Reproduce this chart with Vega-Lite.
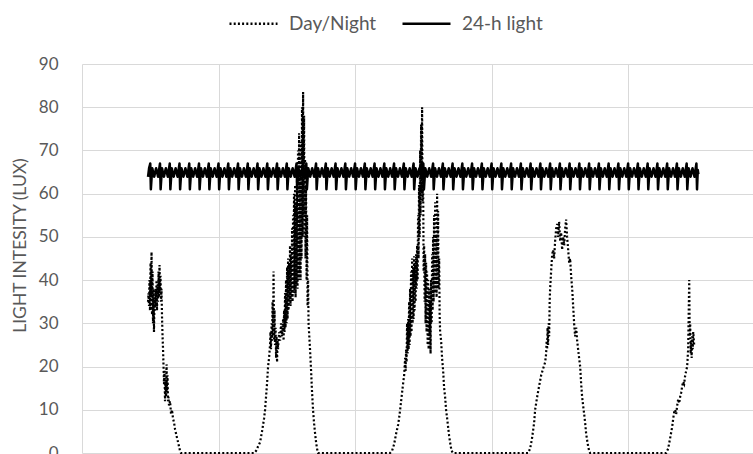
{
  "$schema": "https://vega.github.io/schema/vega-lite/v6.json",
  "width": 671,
  "height": 389,
  "autosize": {"type": "none"},
  "padding": {"left": 82, "top": 64, "right": 0, "bottom": 1},
  "background": "white",
  "config": {
    "view": {"stroke": null},
    "font": "Lato",
    "axis": {"gridColor": "#d9d9d9", "gridWidth": 1}
  },
  "datasets": {
    "daynight": [
      {"t":6.77,"v":35},{"t":6.82,"v":37},{"t":6.87,"v":34},{"t":6.92,"v":40},{"t":6.97,"v":33},{"t":7.03,"v":44},{"t":7.08,"v":36},{"t":7.13,"v":46.5},{"t":7.18,"v":32},{"t":7.23,"v":42},{"t":7.28,"v":30},{"t":7.33,"v":38},{"t":7.38,"v":28},{"t":7.44,"v":36},{"t":7.49,"v":33},{"t":7.54,"v":38},{"t":7.59,"v":34},{"t":7.64,"v":40},{"t":7.69,"v":33},{"t":7.74,"v":39},{"t":7.79,"v":35},{"t":7.85,"v":42},{"t":7.9,"v":36},{"t":7.95,"v":43.5},{"t":8.0,"v":37},{"t":8.05,"v":41},{"t":8.1,"v":35},{"t":8.15,"v":38},{"t":8.21,"v":31},{"t":8.26,"v":27},{"t":8.31,"v":24},{"t":8.36,"v":20},{"t":8.41,"v":16},{"t":8.46,"v":19},{"t":8.51,"v":12},{"t":8.56,"v":17},{"t":8.62,"v":13},{"t":8.67,"v":20.5},{"t":8.72,"v":14},{"t":8.77,"v":18},{"t":8.82,"v":12},{"t":8.87,"v":13},{"t":8.92,"v":11},{"t":9.03,"v":12},{"t":9.13,"v":9},{"t":9.23,"v":10},{"t":9.33,"v":8},{"t":9.44,"v":7},{"t":9.54,"v":5.5},{"t":9.64,"v":4.5},{"t":9.74,"v":3.5},{"t":9.85,"v":2.5},{"t":9.95,"v":1.5},{"t":10.05,"v":0.5},{"t":10.15,"v":0},{"t":17.64,"v":0},
      {"t":17.85,"v":0.5},{"t":18.05,"v":1.5},{"t":18.26,"v":2.5},{"t":18.46,"v":5},{"t":18.67,"v":8},{"t":18.77,"v":10},{"t":18.87,"v":13},{"t":18.97,"v":16},{"t":19.08,"v":20},{"t":19.18,"v":22},{"t":19.28,"v":25},{"t":19.33,"v":28},{"t":19.38,"v":24},{"t":19.44,"v":30},{"t":19.49,"v":26},{"t":19.54,"v":35},{"t":19.59,"v":27},{"t":19.64,"v":42},{"t":19.69,"v":26},{"t":19.74,"v":33},{"t":19.79,"v":25},{"t":19.85,"v":29},{"t":19.9,"v":22},{"t":19.95,"v":27},{"t":20.0,"v":21},{"t":20.05,"v":26},{"t":20.1,"v":24},{"t":20.21,"v":28},{"t":20.31,"v":26},{"t":20.41,"v":30},{"t":20.51,"v":27},{"t":20.62,"v":31},{"t":20.67,"v":26},{"t":20.72,"v":33},{"t":20.77,"v":28},{"t":20.82,"v":37},{"t":20.87,"v":29},{"t":20.92,"v":40},{"t":20.97,"v":30},{"t":21.03,"v":43},{"t":21.08,"v":31},{"t":21.13,"v":45},{"t":21.18,"v":33},{"t":21.23,"v":44},{"t":21.28,"v":35},{"t":21.33,"v":48},{"t":21.38,"v":34},{"t":21.44,"v":46},{"t":21.49,"v":36},{"t":21.54,"v":52},{"t":21.59,"v":35},{"t":21.64,"v":55},{"t":21.69,"v":38},{"t":21.74,"v":60},{"t":21.79,"v":37},{"t":21.85,"v":62},{"t":21.9,"v":36},{"t":21.95,"v":58},{"t":22.0,"v":39},{"t":22.05,"v":66},{"t":22.1,"v":38},{"t":22.15,"v":70},{"t":22.21,"v":40},{"t":22.26,"v":74},{"t":22.31,"v":42},{"t":22.36,"v":64},{"t":22.41,"v":40},{"t":22.46,"v":72},{"t":22.51,"v":45},{"t":22.56,"v":80},{"t":22.62,"v":50},{"t":22.67,"v":83.5},{"t":22.72,"v":55},{"t":22.77,"v":78},{"t":22.82,"v":50},{"t":22.87,"v":68},{"t":22.92,"v":45},{"t":22.97,"v":62},{"t":23.03,"v":40},{"t":23.08,"v":55},{"t":23.13,"v":34},{"t":23.18,"v":40},{"t":23.23,"v":30},{"t":23.28,"v":28},{"t":23.38,"v":24},{"t":23.49,"v":19},{"t":23.59,"v":14},{"t":23.69,"v":10},{"t":23.79,"v":7},{"t":23.9,"v":4.5},{"t":24.0,"v":2.5},{"t":24.1,"v":1},{"t":24.21,"v":0},{"t":31.59,"v":0},
      {"t":31.79,"v":0.5},{"t":32.0,"v":2},{"t":32.21,"v":4.5},{"t":32.31,"v":5.5},{"t":32.41,"v":6.5},{"t":32.51,"v":8},{"t":32.62,"v":10},{"t":32.72,"v":12},{"t":32.82,"v":14},{"t":32.92,"v":16},{"t":33.03,"v":18},{"t":33.08,"v":20},{"t":33.13,"v":22},{"t":33.18,"v":19},{"t":33.23,"v":24},{"t":33.28,"v":21},{"t":33.33,"v":30},{"t":33.38,"v":23},{"t":33.44,"v":31},{"t":33.49,"v":24},{"t":33.54,"v":35},{"t":33.59,"v":25},{"t":33.64,"v":38},{"t":33.69,"v":27},{"t":33.74,"v":42},{"t":33.79,"v":28},{"t":33.85,"v":45},{"t":33.9,"v":30},{"t":33.95,"v":43},{"t":34.0,"v":31},{"t":34.05,"v":45.5},{"t":34.1,"v":33},{"t":34.15,"v":44},{"t":34.21,"v":35},{"t":34.26,"v":46},{"t":34.31,"v":38},{"t":34.36,"v":48},{"t":34.41,"v":40},{"t":34.46,"v":55},{"t":34.51,"v":45},{"t":34.56,"v":62},{"t":34.62,"v":50},{"t":34.67,"v":70},{"t":34.72,"v":55},{"t":34.77,"v":76},{"t":34.82,"v":60},{"t":34.87,"v":80},{"t":34.92,"v":58},{"t":34.97,"v":66},{"t":35.03,"v":42},{"t":35.08,"v":48},{"t":35.13,"v":35},{"t":35.18,"v":46},{"t":35.23,"v":30},{"t":35.28,"v":44},{"t":35.33,"v":28},{"t":35.38,"v":42},{"t":35.44,"v":25},{"t":35.49,"v":40},{"t":35.54,"v":24},{"t":35.59,"v":38},{"t":35.64,"v":27},{"t":35.69,"v":35},{"t":35.74,"v":23},{"t":35.79,"v":40},{"t":35.85,"v":30},{"t":35.9,"v":46},{"t":35.95,"v":33},{"t":36.0,"v":50},{"t":36.05,"v":35},{"t":36.1,"v":55},{"t":36.15,"v":37},{"t":36.21,"v":58},{"t":36.26,"v":38},{"t":36.31,"v":50},{"t":36.36,"v":36},{"t":36.41,"v":60},{"t":36.46,"v":40},{"t":36.51,"v":56},{"t":36.56,"v":38},{"t":36.62,"v":45},{"t":36.67,"v":32},{"t":36.72,"v":28},{"t":36.82,"v":26},{"t":36.92,"v":22},{"t":37.03,"v":19},{"t":37.13,"v":15},{"t":37.23,"v":13},{"t":37.33,"v":10},{"t":37.44,"v":8},{"t":37.54,"v":6},{"t":37.64,"v":4},{"t":37.74,"v":2.5},{"t":37.85,"v":1},{"t":37.95,"v":0.3},{"t":38.05,"v":0},{"t":45.74,"v":0},
      {"t":45.95,"v":1},{"t":46.15,"v":3.5},{"t":46.36,"v":7},{"t":46.46,"v":10},{"t":46.67,"v":13},{"t":46.87,"v":15.5},{"t":47.08,"v":18},{"t":47.28,"v":19.5},{"t":47.49,"v":21},{"t":47.59,"v":23},{"t":47.64,"v":26},{"t":47.69,"v":24},{"t":47.74,"v":29},{"t":47.79,"v":25},{"t":47.85,"v":30},{"t":47.9,"v":27},{"t":47.95,"v":35},{"t":48.0,"v":38},{"t":48.1,"v":42},{"t":48.21,"v":46},{"t":48.31,"v":47},{"t":48.41,"v":45},{"t":48.51,"v":49},{"t":48.62,"v":52},{"t":48.72,"v":53},{"t":48.82,"v":50},{"t":48.92,"v":53.5},{"t":49.03,"v":49},{"t":49.13,"v":51},{"t":49.23,"v":47},{"t":49.33,"v":50},{"t":49.44,"v":48},{"t":49.54,"v":52},{"t":49.64,"v":54},{"t":49.74,"v":50},{"t":49.85,"v":47},{"t":49.95,"v":44},{"t":50.05,"v":45},{"t":50.15,"v":41},{"t":50.26,"v":38},{"t":50.36,"v":34},{"t":50.46,"v":30},{"t":50.56,"v":27},{"t":50.67,"v":29},{"t":50.77,"v":26},{"t":50.87,"v":24},{"t":50.97,"v":22},{"t":51.08,"v":20},{"t":51.18,"v":16},{"t":51.28,"v":13},{"t":51.38,"v":11},{"t":51.49,"v":9},{"t":51.59,"v":7},{"t":51.69,"v":4.5},{"t":51.79,"v":3},{"t":51.9,"v":1.5},{"t":52.0,"v":0.5},{"t":52.1,"v":0},{"t":59.9,"v":0},
      {"t":60.1,"v":1},{"t":60.31,"v":3.5},{"t":60.51,"v":6},{"t":60.62,"v":8},{"t":60.72,"v":9.5},{"t":60.82,"v":10},{"t":60.92,"v":9},{"t":61.03,"v":11},{"t":61.13,"v":12.5},{"t":61.23,"v":11.5},{"t":61.33,"v":13},{"t":61.44,"v":14},{"t":61.54,"v":15.5},{"t":61.64,"v":16.5},{"t":61.74,"v":16},{"t":61.85,"v":18},{"t":61.95,"v":19},{"t":62.05,"v":20},{"t":62.15,"v":24},{"t":62.26,"v":40},{"t":62.31,"v":27},{"t":62.36,"v":30},{"t":62.41,"v":23},{"t":62.46,"v":26},{"t":62.51,"v":22},{"t":62.56,"v":27},{"t":62.62,"v":24},{"t":62.67,"v":28},{"t":62.77,"v":25}
    ],
    "light24": [
      {"t":6.77,"v":63.9},{"t":6.88,"v":65.9},
      {"t":7,"v":67},{"t":7.06,"v":61},{"t":7.2,"v":65.9},{"t":7.4,"v":63.9},{"t":7.6,"v":65.9},{"t":7.8,"v":63.9},
      {"t":8,"v":67},{"t":8.06,"v":61},{"t":8.2,"v":65.9},{"t":8.4,"v":63.9},{"t":8.6,"v":65.9},{"t":8.8,"v":63.9},
      {"t":9,"v":67},{"t":9.06,"v":61},{"t":9.2,"v":65.9},{"t":9.4,"v":63.9},{"t":9.6,"v":65.9},{"t":9.8,"v":63.9},
      {"t":10,"v":67},{"t":10.06,"v":61},{"t":10.2,"v":65.9},{"t":10.4,"v":63.9},{"t":10.6,"v":65.9},{"t":10.8,"v":63.9},
      {"t":11,"v":67},{"t":11.06,"v":61},{"t":11.2,"v":65.9},{"t":11.4,"v":63.9},{"t":11.6,"v":65.9},{"t":11.8,"v":63.9},
      {"t":12,"v":67},{"t":12.06,"v":61},{"t":12.2,"v":65.9},{"t":12.4,"v":63.9},{"t":12.6,"v":65.9},{"t":12.8,"v":63.9},
      {"t":13,"v":67},{"t":13.06,"v":61},{"t":13.2,"v":65.9},{"t":13.4,"v":63.9},{"t":13.6,"v":65.9},{"t":13.8,"v":63.9},
      {"t":14,"v":67},{"t":14.06,"v":61},{"t":14.2,"v":65.9},{"t":14.4,"v":63.9},{"t":14.6,"v":65.9},{"t":14.8,"v":63.9},
      {"t":15,"v":67},{"t":15.06,"v":61},{"t":15.2,"v":65.9},{"t":15.4,"v":63.9},{"t":15.6,"v":65.9},{"t":15.8,"v":63.9},
      {"t":16,"v":67},{"t":16.06,"v":61},{"t":16.2,"v":65.9},{"t":16.4,"v":63.9},{"t":16.6,"v":65.9},{"t":16.8,"v":63.9},
      {"t":17,"v":67},{"t":17.06,"v":61},{"t":17.2,"v":65.9},{"t":17.4,"v":63.9},{"t":17.6,"v":65.9},{"t":17.8,"v":63.9},
      {"t":18,"v":67},{"t":18.06,"v":61},{"t":18.2,"v":65.9},{"t":18.4,"v":63.9},{"t":18.6,"v":65.9},{"t":18.8,"v":63.9},
      {"t":19,"v":67},{"t":19.06,"v":61},{"t":19.2,"v":65.9},{"t":19.4,"v":63.9},{"t":19.6,"v":65.9},{"t":19.8,"v":63.9},
      {"t":20,"v":67},{"t":20.06,"v":61},{"t":20.2,"v":65.9},{"t":20.4,"v":63.9},{"t":20.6,"v":65.9},{"t":20.8,"v":63.9},
      {"t":21,"v":67},{"t":21.06,"v":61},{"t":21.2,"v":65.9},{"t":21.4,"v":63.9},{"t":21.6,"v":65.9},{"t":21.8,"v":63.9},
      {"t":22,"v":67},{"t":22.06,"v":61},{"t":22.2,"v":65.9},{"t":22.4,"v":63.9},{"t":22.6,"v":65.9},{"t":22.8,"v":63.9},
      {"t":23,"v":67},{"t":23.06,"v":61},{"t":23.2,"v":65.9},{"t":23.4,"v":63.9},{"t":23.6,"v":65.9},{"t":23.8,"v":63.9},
      {"t":24,"v":67},{"t":24.06,"v":61},{"t":24.2,"v":65.9},{"t":24.4,"v":63.9},{"t":24.6,"v":65.9},{"t":24.8,"v":63.9},
      {"t":25,"v":67},{"t":25.06,"v":61},{"t":25.2,"v":65.9},{"t":25.4,"v":63.9},{"t":25.6,"v":65.9},{"t":25.8,"v":63.9},
      {"t":26,"v":67},{"t":26.06,"v":61},{"t":26.2,"v":65.9},{"t":26.4,"v":63.9},{"t":26.6,"v":65.9},{"t":26.8,"v":63.9},
      {"t":27,"v":67},{"t":27.06,"v":61},{"t":27.2,"v":65.9},{"t":27.4,"v":63.9},{"t":27.6,"v":65.9},{"t":27.8,"v":63.9},
      {"t":28,"v":67},{"t":28.06,"v":61},{"t":28.2,"v":65.9},{"t":28.4,"v":63.9},{"t":28.6,"v":65.9},{"t":28.8,"v":63.9},
      {"t":29,"v":67},{"t":29.06,"v":61},{"t":29.2,"v":65.9},{"t":29.4,"v":63.9},{"t":29.6,"v":65.9},{"t":29.8,"v":63.9},
      {"t":30,"v":67},{"t":30.06,"v":61},{"t":30.2,"v":65.9},{"t":30.4,"v":63.9},{"t":30.6,"v":65.9},{"t":30.8,"v":63.9},
      {"t":31,"v":67},{"t":31.06,"v":61},{"t":31.2,"v":65.9},{"t":31.4,"v":63.9},{"t":31.6,"v":65.9},{"t":31.8,"v":63.9},
      {"t":32,"v":67},{"t":32.06,"v":61},{"t":32.2,"v":65.9},{"t":32.4,"v":63.9},{"t":32.6,"v":65.9},{"t":32.8,"v":63.9},
      {"t":33,"v":67},{"t":33.06,"v":61},{"t":33.2,"v":65.9},{"t":33.4,"v":63.9},{"t":33.6,"v":65.9},{"t":33.8,"v":63.9},
      {"t":34,"v":67},{"t":34.06,"v":61},{"t":34.2,"v":65.9},{"t":34.4,"v":63.9},{"t":34.6,"v":65.9},{"t":34.8,"v":63.9},
      {"t":35,"v":67},{"t":35.06,"v":61},{"t":35.2,"v":65.9},{"t":35.4,"v":63.9},{"t":35.6,"v":65.9},{"t":35.8,"v":63.9},
      {"t":36,"v":67},{"t":36.06,"v":61},{"t":36.2,"v":65.9},{"t":36.4,"v":63.9},{"t":36.6,"v":65.9},{"t":36.8,"v":63.9},
      {"t":37,"v":67},{"t":37.06,"v":61},{"t":37.2,"v":65.9},{"t":37.4,"v":63.9},{"t":37.6,"v":65.9},{"t":37.8,"v":63.9},
      {"t":38,"v":67},{"t":38.06,"v":61},{"t":38.2,"v":65.9},{"t":38.4,"v":63.9},{"t":38.6,"v":65.9},{"t":38.8,"v":63.9},
      {"t":39,"v":67},{"t":39.06,"v":61},{"t":39.2,"v":65.9},{"t":39.4,"v":63.9},{"t":39.6,"v":65.9},{"t":39.8,"v":63.9},
      {"t":40,"v":67},{"t":40.06,"v":61},{"t":40.2,"v":65.9},{"t":40.4,"v":63.9},{"t":40.6,"v":65.9},{"t":40.8,"v":63.9},
      {"t":41,"v":67},{"t":41.06,"v":61},{"t":41.2,"v":65.9},{"t":41.4,"v":63.9},{"t":41.6,"v":65.9},{"t":41.8,"v":63.9},
      {"t":42,"v":67},{"t":42.06,"v":61},{"t":42.2,"v":65.9},{"t":42.4,"v":63.9},{"t":42.6,"v":65.9},{"t":42.8,"v":63.9},
      {"t":43,"v":67},{"t":43.06,"v":61},{"t":43.2,"v":65.9},{"t":43.4,"v":63.9},{"t":43.6,"v":65.9},{"t":43.8,"v":63.9},
      {"t":44,"v":67},{"t":44.06,"v":61},{"t":44.2,"v":65.9},{"t":44.4,"v":63.9},{"t":44.6,"v":65.9},{"t":44.8,"v":63.9},
      {"t":45,"v":67},{"t":45.06,"v":61},{"t":45.2,"v":65.9},{"t":45.4,"v":63.9},{"t":45.6,"v":65.9},{"t":45.8,"v":63.9},
      {"t":46,"v":67},{"t":46.06,"v":61},{"t":46.2,"v":65.9},{"t":46.4,"v":63.9},{"t":46.6,"v":65.9},{"t":46.8,"v":63.9},
      {"t":47,"v":67},{"t":47.06,"v":61},{"t":47.2,"v":65.9},{"t":47.4,"v":63.9},{"t":47.6,"v":65.9},{"t":47.8,"v":63.9},
      {"t":48,"v":67},{"t":48.06,"v":61},{"t":48.2,"v":65.9},{"t":48.4,"v":63.9},{"t":48.6,"v":65.9},{"t":48.8,"v":63.9},
      {"t":49,"v":67},{"t":49.06,"v":61},{"t":49.2,"v":65.9},{"t":49.4,"v":63.9},{"t":49.6,"v":65.9},{"t":49.8,"v":63.9},
      {"t":50,"v":67},{"t":50.06,"v":61},{"t":50.2,"v":65.9},{"t":50.4,"v":63.9},{"t":50.6,"v":65.9},{"t":50.8,"v":63.9},
      {"t":51,"v":67},{"t":51.06,"v":61},{"t":51.2,"v":65.9},{"t":51.4,"v":63.9},{"t":51.6,"v":65.9},{"t":51.8,"v":63.9},
      {"t":52,"v":67},{"t":52.06,"v":61},{"t":52.2,"v":65.9},{"t":52.4,"v":63.9},{"t":52.6,"v":65.9},{"t":52.8,"v":63.9},
      {"t":53,"v":67},{"t":53.06,"v":61},{"t":53.2,"v":65.9},{"t":53.4,"v":63.9},{"t":53.6,"v":65.9},{"t":53.8,"v":63.9},
      {"t":54,"v":67},{"t":54.06,"v":61},{"t":54.2,"v":65.9},{"t":54.4,"v":63.9},{"t":54.6,"v":65.9},{"t":54.8,"v":63.9},
      {"t":55,"v":67},{"t":55.06,"v":61},{"t":55.2,"v":65.9},{"t":55.4,"v":63.9},{"t":55.6,"v":65.9},{"t":55.8,"v":63.9},
      {"t":56,"v":67},{"t":56.06,"v":61},{"t":56.2,"v":65.9},{"t":56.4,"v":63.9},{"t":56.6,"v":65.9},{"t":56.8,"v":63.9},
      {"t":57,"v":67},{"t":57.06,"v":61},{"t":57.2,"v":65.9},{"t":57.4,"v":63.9},{"t":57.6,"v":65.9},{"t":57.8,"v":63.9},
      {"t":58,"v":67},{"t":58.06,"v":61},{"t":58.2,"v":65.9},{"t":58.4,"v":63.9},{"t":58.6,"v":65.9},{"t":58.8,"v":63.9},
      {"t":59,"v":67},{"t":59.06,"v":61},{"t":59.2,"v":65.9},{"t":59.4,"v":63.9},{"t":59.6,"v":65.9},{"t":59.8,"v":63.9},
      {"t":60,"v":67},{"t":60.06,"v":61},{"t":60.2,"v":65.9},{"t":60.4,"v":63.9},{"t":60.6,"v":65.9},{"t":60.8,"v":63.9},
      {"t":61,"v":67},{"t":61.06,"v":61},{"t":61.2,"v":65.9},{"t":61.4,"v":63.9},{"t":61.6,"v":65.9},{"t":61.8,"v":63.9},
      {"t":62,"v":67},{"t":62.06,"v":61},{"t":62.2,"v":65.9},{"t":62.4,"v":63.9},{"t":62.6,"v":65.9},{"t":62.8,"v":63.9},
      {"t":63,"v":67},{"t":63.06,"v":61},{"t":63.14,"v":65.5},{"t":63.2,"v":64.5}
    ]
  },
  "encoding": {
    "x": {
      "field": "t",
      "type": "quantitative",
      "scale": {"domain": [0, 68.8], "nice": false, "zero": false},
      "axis": {"values": [0, 14, 28, 42, 56], "labels": false, "ticks": false, "domain": false, "title": null, "grid": true}
    },
    "y": {
      "field": "v",
      "type": "quantitative",
      "scale": {"domain": [0, 90], "nice": false},
      "axis": {
        "values": [0, 10, 20, 30, 40, 50, 60, 70, 80, 90],
        "title": "LIGHT INTESITY (LUX)",
        "ticks": false,
        "domain": false,
        "labelFontSize": 17,
        "labelColor": "#595959",
        "labelPadding": 24,
        "titleFontSize": 17.5,
        "titleFontWeight": "normal",
        "titleColor": "#595959",
        "titleX": -62,
        "titleY": 181,
        "titleBaseline": "middle"
      }
    },
    "strokeDash": {
      "scale": {"domain": ["Day/Night", "24-h light"], "range": [[2, 2.2], [1, 0]]},
      "legend": {
        "title": null,
        "orient": "none",
        "legendX": 146,
        "legendY": -66,
        "direction": "horizontal",
        "symbolType": "stroke",
        "symbolSize": 2304,
        "symbolStrokeWidth": 2.5,
        "symbolStrokeColor": "black",
        "labelFontSize": 19,
        "labelColor": "#595959",
        "labelOffset": 10,
        "columnPadding": 20,
        "padding": 0
      }
    }
  },
  "layer": [
    {
      "data": {"name": "daynight"},
      "mark": {"type": "line", "color": "black", "strokeWidth": 2.2, "strokeCap": "butt"},
      "encoding": {"strokeDash": {"datum": "Day/Night", "type": "nominal"}}
    },
    {
      "data": {"name": "light24"},
      "mark": {"type": "line", "color": "black", "strokeWidth": 2.5, "strokeJoin": "round"},
      "encoding": {"strokeDash": {"datum": "24-h light", "type": "nominal"}}
    }
  ]
}
